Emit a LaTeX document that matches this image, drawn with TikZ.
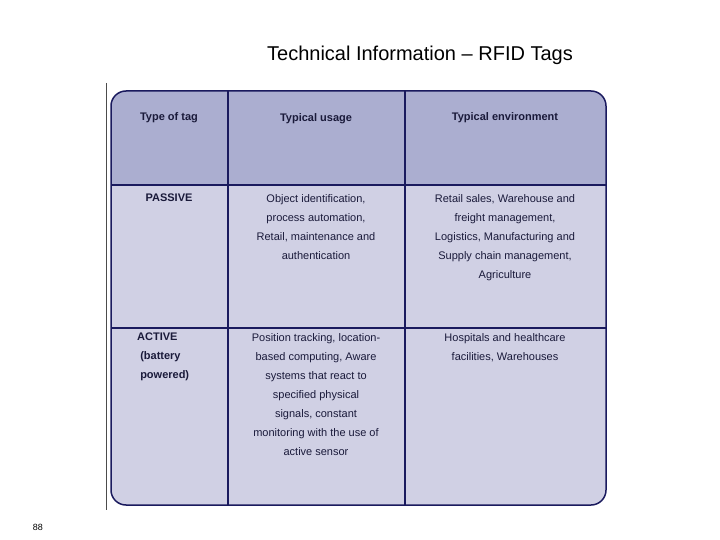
\documentclass[tikz,border=0pt]{standalone}
\usepackage{fontspec}
\setmainfont{Liberation Sans}
\definecolor{hdr}{HTML}{ABAED0}
\definecolor{bdy}{HTML}{D0D0E4}
\definecolor{brd}{HTML}{1A1A5E}
\definecolor{txt}{HTML}{1A1A3A}
\begin{document}
\begin{tikzpicture}[x=1pt,y=-1pt,
  cell/.style={align=center,font=\fontsize{11}{19}\selectfont,text=txt,anchor=north,inner sep=0pt},
  hcell/.style={cell,font=\fontsize{11}{19}\selectfont\bfseries}]
\useasboundingbox (0,0) rectangle (720,540);
\fill[bdy,rounded corners=15] (111,91) rectangle (606,505);
\fill[hdr] (111,185) [rounded corners=15] -- (111,91) -- (606,91) [sharp corners] -- (606,185) -- cycle;
\draw[brd,line width=1.5pt,rounded corners=15] (111,91) rectangle (606,505);
\draw[brd,line width=1.2pt] (228,91) -- (228,505) (405,91) -- (405,505) (111,185) -- (606,185) (111,328) -- (606,328);
\draw[black!70,line width=0.8pt] (106,83) -- (106,510);
\node[font=\fontsize{20}{24}\selectfont] (title) at (420,55) {Technical Information – RFID Tags};
\node[font=\fontsize{9}{11}\selectfont] (pg) at (38,527) {88};
\node[hcell] (h1) at (169,112) {Type of tag};
\node[hcell] (h2) at (316,113) {Typical usage};
\node[hcell] (h3) at (505,112) {Typical environment};
\node[hcell] (p1) at (169,194) {PASSIVE};
\node[cell] (p2) at (316,194) {Object identification,\\process automation,\\Retail, maintenance and\\authentication};
\node[cell] (p3) at (505,194) {Retail sales, Warehouse and\\freight management,\\Logistics, Manufacturing and\\Supply chain management,\\Agriculture};
\node[hcell,align=left,anchor=north west] (a1) at (137,333) {ACTIVE\\\ (battery\\\ powered)};
\node[cell] (a2) at (316,333) {Position tracking, location-\\based computing, Aware\\systems that react to\\specified physical\\signals, constant\\monitoring with the use of\\active sensor};
\node[cell] (a3) at (505,333) {Hospitals and healthcare\\facilities, Warehouses};
\end{tikzpicture}
\end{document}
